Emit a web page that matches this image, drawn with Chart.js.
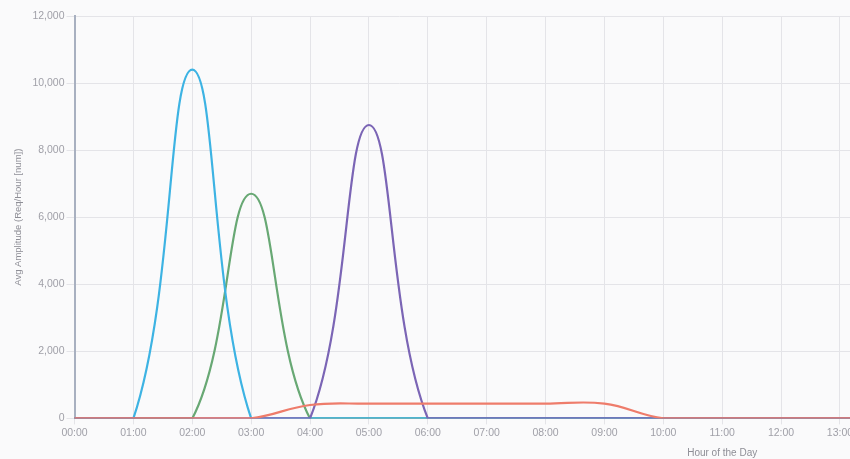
<!DOCTYPE html>
<html>
<head>
<meta charset="utf-8">
<script src="https://cdn.jsdelivr.net/npm/chart.js@4.4.1/dist/chart.umd.min.js"></script>
<style>
  html, body { margin: 0; padding: 0; background: #fafafb; overflow: hidden; }
  #wrap { width: 1385px; height: 459px; }
</style>
</head>
<body>
<div id="wrap"><canvas id="chart"></canvas></div>
<script>
// hours shown on the x axis (the original chart is wider than the window)
const hours = ['00:00','01:00','02:00','03:00','04:00','05:00','06:00','07:00','08:00','09:00','10:00',
               '11:00','12:00','13:00','14:00','15:00','16:00','17:00','18:00','19:00','20:00','21:00','22:00'];

const redValues    = [0, 0, 0, 0, 400, 440, 440, 440, 440, 440, 0, 0, 0, 0, 0, 0, 0, 0, 0, 0, 0, 0, 0];
const purpleValues = [0, 0, 0, 0, 0, 8750, 0, 0, 0, 0, 0, 0, 0, 0, 0, 0, 0, 0, 0, 0, 0, 0, 0];
const blueValues   = [0, 0, 10400, 0, 0, 0, 0, 0, 0, 0, 0, 0, 0, 0, 0, 0, 0, 0, 0, 0, 0, 0, 0];
const greenValues  = [0, 0, 0, 6700, 0, 0, 0, 0, 0, 0, 0, 0, 0, 0, 0, 0, 0, 0, 0, 0, 0, 0, 0];

const yTicks = [0, 2000, 4000, 6000, 8000, 10000, 12000];

function series(data, color) {
    return {
        data: data,
        borderColor: color,
        backgroundColor: color,
        borderWidth: 2.2,
        pointRadius: 0,
        tension: 0.4,
        fill: false
    };
}

const ctx = document.getElementById('chart').getContext('2d');
new Chart(ctx, {
    type: 'line',
    data: {
        labels: hours,
        datasets: [
            series(redValues, '#ee7c6b'),
            series(purpleValues, '#7b65b5'),
            series(blueValues, '#3db3e3'),
            series(greenValues, '#68a874')
        ]
    },
    options: {
        responsive: true,
        maintainAspectRatio: false,
        animation: false,
        layout: { padding: { top: 16, left: 13, right: 0, bottom: 0 } },
        plugins: {
            legend: { display: false },
            tooltip: { enabled: false }
        },
        scales: {
            x: {
                grid: { color: '#e4e4e8', tickLength: 6 },
                border: { color: '#b8b8c4' },
                ticks: {
                    color: '#a0a0a8',
                    font: { family: 'Liberation Sans', size: 10.5 },
                    maxRotation: 0,
                    autoSkip: false,
                    padding: 2
                },
                title: {
                    display: true,
                    text: 'Hour of the Day',
                    color: '#8e8e96',
                    font: { family: 'Liberation Sans', size: 10 },
                    padding: { top: 6, bottom: 0 }
                }
            },
            y: {
                min: 0,
                max: 12000,
                afterBuildTicks: axis => { axis.ticks = yTicks.map(v => ({ value: v })); },
                grid: { color: '#e4e4e8', tickLength: 8 },
                border: { color: '#a8b0c0', width: 2 },
                ticks: {
                    color: '#a0a0a8',
                    font: { family: 'Liberation Sans', size: 10.5 },
                    padding: 2,
                    callback: v => v.toLocaleString('en-US')
                },
                title: {
                    display: true,
                    text: 'Avg Amplitude (Req/Hour [num])',
                    color: '#8e8e96',
                    font: { family: 'Liberation Sans', size: 9.5 },
                    padding: { top: 0, bottom: 6 }
                }
            }
        }
    }
});
</script>
</body>
</html>
